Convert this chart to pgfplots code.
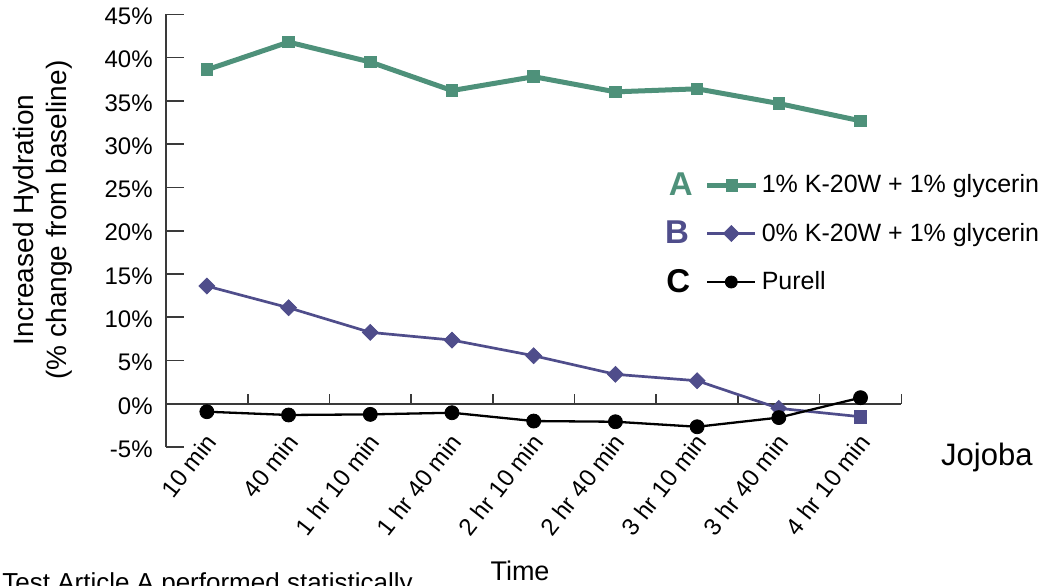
\documentclass[border=0pt]{standalone}
\usepackage{fontspec}
\setmainfont{Liberation Sans}
\usepackage{pgfplots}
\pgfplotsset{compat=1.18}
\definecolor{cA}{HTML}{4E917A}
\definecolor{cB}{HTML}{4F4D8B}
\definecolor{axc}{HTML}{3A3A3A}
\newcommand\letterfont{\fontsize{16.5}{18}\selectfont\bfseries}
\begin{document}
\begin{tikzpicture}
\useasboundingbox (0,0) rectangle (522pt,292.5pt);
\begin{axis}[
  at={(83pt,69pt)}, anchor=south west,
  scale only axis, width=367.7pt, height=216.3pt,
  xmin=-0.5, xmax=8.5, ymin=-5, ymax=45,
  clip=false,
  axis y line*=left, axis x line*=bottom,
  x axis line style={draw=none},
  y axis line style={axc, line width=0.8pt, -},
  xtick={0,...,8},
  xticklabels={10 min,40 min,1 hr 10 min,1 hr 40 min,2 hr 10 min,2 hr 40 min,3 hr 10 min,3 hr 40 min,4 hr 10 min},
  x tick style={draw=none},
  xticklabel style={xshift=5.5pt, yshift=2.3pt, rotate=52, anchor=base east, inner sep=0pt, font=\fontsize{12}{14}\selectfont},
  ytick={-5,0,5,10,15,20,25,30,35,40,45},
  yticklabels={-5\%,0\%,5\%,10\%,15\%,20\%,25\%,30\%,35\%,40\%,45\%},
  y tick style={axc, line width=0.8pt},
  tick align=inside, major tick length=9pt,
  yticklabel style={font=\fontsize{12}{14}\selectfont, inner sep=0pt, xshift=-6.5pt, yshift=-1pt},
  legend style={draw=none, fill=none, at={(axis description cs:0.670,0.645)}, anchor=north west,
    font=\fontsize{12.5}{15}\selectfont, row sep=11.3pt, cells={anchor=west},
    nodes={inner sep=0pt},
    /tikz/every odd column/.append style={column sep=1.5pt}},
]
\draw[axc, line width=0.8pt] (axis cs:-0.5,0) -- (axis cs:8.5,0);
\pgfplotsinvokeforeach{0,...,8}{\draw[axc, line width=0.8pt] (axis cs:#1.5,0) -- ++(0pt,5pt);}

\addplot[cA, line width=2.5pt, mark=square*, mark size=2.9pt, mark options={solid, line width=0.5pt},
  legend image code/.code={%
    \node[anchor=east, inner sep=0pt, text=cA, font=\letterfont] at (-6pt,0pt) {A};
    \draw[cA, line width=2.5pt, mark=square*, mark size=2.9pt, mark options={solid, line width=0.5pt}, mark repeat=2, mark phase=2] plot coordinates {(0pt,0pt) (12.25pt,0pt) (24.5pt,0pt)};}]
  coordinates {(0,38.6) (1,41.8) (2,39.5) (3,36.2) (4,37.8) (5,36.05) (6,36.4) (7,34.7) (8,32.7)};
\addlegendentry{1\% K-20W + 1\% glycerin}

\addplot[cB, line width=1.35pt,
  legend image code/.code={%
    \node[anchor=east, inner sep=0pt, text=cB, font=\letterfont] at (-8.5pt,0pt) {B};
    \draw[cB, line width=1.35pt, mark=square*, mark size=2.8pt, mark options={solid, rotate=45, line width=0.4pt}, mark repeat=2, mark phase=2] plot coordinates {(0pt,0pt) (12pt,0pt) (24pt,0pt)};}]
  coordinates {(0,13.6) (1,11.1) (2,8.25) (3,7.36) (4,5.55) (5,3.4) (6,2.66) (7,-0.53) (8,-1.5)};
\addlegendentry{0\% K-20W + 1\% glycerin}
\addplot[cB, only marks, mark=square*, mark size=2.8pt, mark options={rotate=45, line width=0.4pt}, forget plot]
  coordinates {(0,13.6) (1,11.1) (2,8.25) (3,7.36) (4,5.55) (5,3.4) (6,2.66) (7,-0.53)};
\addplot[cB, only marks, mark=square*, mark size=3.1pt, mark options={line width=0.4pt}, forget plot]
  coordinates {(8,-1.5)};

\addplot[black, line width=1.15pt, mark=*, mark size=3.5pt, mark options={solid, line width=0.4pt},
  legend image code/.code={%
    \node[anchor=east, inner sep=0pt, text=black, font=\letterfont] at (-8pt,0pt) {C};
    \draw[black, line width=1.15pt, mark=*, mark size=3pt, mark options={solid, line width=0.4pt}, mark repeat=2, mark phase=2] plot coordinates {(0pt,0pt) (12pt,0pt) (24pt,0pt)};}]
  coordinates {(0,-0.92) (1,-1.3) (2,-1.23) (3,-1.04) (4,-2.0) (5,-2.08) (6,-2.66) (7,-1.6) (8,0.7)};
\addlegendentry{Purell}
\end{axis}
\node[rotate=90, align=center, font=\fontsize{14}{16.5}\selectfont] at (21.5pt,182.5pt) {Increased Hydration\\(\% change from baseline)};
\node[anchor=base west, inner sep=0pt, font=\fontsize{15.5}{18}\selectfont] at (470.4pt,60pt) {Jojoba};
\node[anchor=base, inner sep=0pt, font=\fontsize{13.5}{16}\selectfont] at (260pt,2.5pt) {Time};
\node[anchor=base west, inner sep=0pt, font=\fontsize{13}{15}\selectfont] at (1pt,-3.25pt) {Test Article A performed statistically};
\end{tikzpicture}
\end{document}
